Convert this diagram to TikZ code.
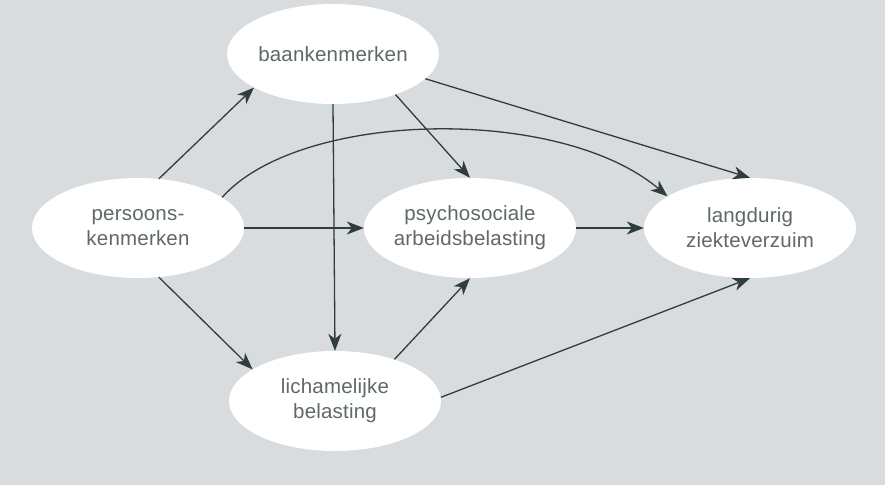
\documentclass[tikz,border=0pt]{standalone}
\usepackage{fontspec}
\setmainfont{Liberation Sans}[LetterSpace=1]
\usetikzlibrary{arrows.meta,shapes.geometric}
\definecolor{bg}{HTML}{D9DCDE}
\definecolor{txt}{HTML}{5F686B}
\definecolor{arr}{HTML}{2F3D3E}
\tikzset{
  factor/.style={ellipse, fill=white, draw=none, minimum width=212pt,
    minimum height=100pt, inner xsep=-30pt, inner ysep=-10pt,
    text=txt, align=center, font=\fontsize{20.5}{25}\selectfont},
  link/.style={draw=arr, line width=1.3pt,
    -{Stealth[length=17pt,width=13pt,inset=5pt]}}
}
\begin{document}
\begin{tikzpicture}[x=1pt,y=-1pt]
  \path[fill=bg,use as bounding box] (0,0) rectangle (885,485);

  \node[factor] (baan) at (333,54)  {baankenmerken};
  \node[factor] (pers) at (138,228) {persoons-\\kenmerken};
  \node[factor] (psy)  at (470,228) {psychosociale\\arbeidsbelasting};
  \node[factor] (lang) at (750,228) {langdurig\\ziekteverzuim};
  \node[factor] (lich) at (335,401) {lichamelijke\\belasting};

  \draw[link] (pers.67) -- (baan.203);
  \draw[link] (pers.-67) -- (lich.159);
  \draw[link] (pers.east) -- (psy.west);
  \draw[link] (pers.20) .. controls (300,110) and (560,105) .. (lang.159);
  \draw[link] (baan.-15) -- (lang.north);
  \draw[link] (baan.-33) -- (psy.north);
  \draw[link] (baan.south) -- (lich.north);
  \draw[link] (lich.35) -- (psy.south);
  \draw[link] (lich.2) -- (lang.south);
  \draw[link] (psy.east) -- (lang.west);
\end{tikzpicture}
\end{document}
